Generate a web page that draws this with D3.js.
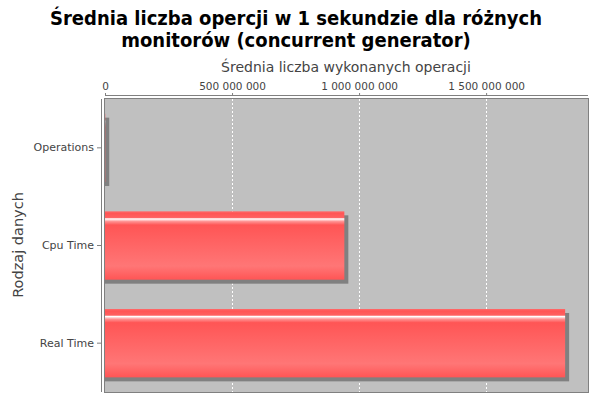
<!DOCTYPE html>
<html><head><meta charset="utf-8">
<script src="https://cdn.jsdelivr.net/npm/d3@7"></script>
<style>body{margin:0;background:#fff}svg{display:block}</style>
</head><body>
<svg id="c" width="600" height="400"></svg>
<script>
const categories = ["Operations", "Cpu Time", "Real Time"];
const values = [1000000, 942000000, 1811000000];
const tickValues = [0, 500000000, 1000000000, 1500000000];
const titleLines = ["Średnia liczba opercji w 1 sekundzie dla różnych", "monitorów (concurrent generator)"];
const xLabel = "Średnia liczba wykonanych operacji";
const yLabel = "Rodzaj danych";
const xMax = 1901000000;

const svg = d3.select("#c");
svg.append("rect").attr("width",600).attr("height",400).attr("fill","#fff");
const L=105, R=588, T=99, B=392;
const x = d3.scaleLinear().domain([0,xMax]).range([L,R]);
const y = d3.scaleBand().domain(categories).range([T,B]).paddingInner(0.3).paddingOuter(0.15);

const defs = svg.append("defs");
const g = defs.append("linearGradient").attr("id","barg").attr("x1",0).attr("y1",0).attr("x2",0).attr("y2",1);
[[0,"#ff6a6a"],[0.03,"#ff5555"],[0.09,"#ff6060"],[0.11,"#ffffff"],[0.15,"#ff9090"],[0.2,"#ff5555"],[0.8,"#ff7676"],[1,"#ff5555"]].forEach(([o,c])=>g.append("stop").attr("offset",o).attr("stop-color",c));

svg.append("rect").attr("x",L).attr("y",T).attr("width",R-L).attr("height",B-T).attr("fill","#c0c0c0");

// grid
svg.append("g").selectAll("line").data(tickValues.filter(d=>d>0)).join("line")
 .attr("x1",d=>Math.round(x(d))+0.5).attr("x2",d=>Math.round(x(d))+0.5).attr("y1",T).attr("y2",B)
 .attr("stroke","#ffffff").attr("stroke-width",1).attr("stroke-dasharray","2,2");

// shadows
svg.append("g").selectAll("rect").data(values).join("rect")
 .attr("x",x(0)).attr("y",(d,i)=>y(categories[i])+4)
 .attr("width",d=>x(d)-x(0)+4).attr("height",y.bandwidth())
 .attr("fill","#808080");
// bars
svg.append("g").selectAll("rect").data(values).join("rect")
 .attr("x",x(0)).attr("y",(d,i)=>y(categories[i]))
 .attr("width",d=>x(d)-x(0)).attr("height",y.bandwidth())
 .attr("fill","url(#barg)");

// plot outline
svg.append("rect").attr("x",L-0.5).attr("y",T-0.5).attr("width",R-L+1).attr("height",B-T+1)
 .attr("fill","none").attr("stroke","#808080");

// top axis
const xa = svg.append("g").attr("transform",`translate(0,${T-4})`)
 .call(d3.axisTop(x).tickValues(tickValues).tickSize(2).tickPadding(3)
   .tickFormat(d=>d3.format(",")(d).replace(/,/g," ")));
xa.select(".domain").attr("stroke","#808080").attr("d",`M${L},0.5H${R}`);
xa.selectAll(".tick line").attr("stroke","#808080");
xa.selectAll("text").attr("fill","#444").attr("font-family","DejaVu Sans").attr("font-size",10.5);

// left axis
const ya = svg.append("g").attr("transform",`translate(${L-4},0)`)
 .call(d3.axisLeft(y).tickSize(4).tickPadding(3));
ya.select(".domain").attr("stroke","#808080").attr("d",`M0.5,${T}V${B}`);
ya.selectAll(".tick line").attr("stroke","#808080");
ya.selectAll("text").attr("fill","#444").attr("font-family","DejaVu Sans").attr("font-size",11);

// labels
svg.append("text").attr("x",346).attr("y",72).attr("text-anchor","middle")
 .attr("font-family","DejaVu Sans").attr("font-size",14).attr("fill","#444").text(xLabel);
svg.append("text").attr("transform","translate(23,245) rotate(-90)").attr("text-anchor","middle")
 .attr("font-family","DejaVu Sans").attr("font-size",14.5).attr("fill","#444").text(yLabel);

svg.append("g").selectAll("text").data(titleLines).join("text")
 .attr("x",296).attr("y",(d,i)=>25+i*22).attr("text-anchor","middle")
 .attr("font-family","DejaVu Sans Condensed, DejaVu Sans").attr("font-weight","bold").attr("font-size",20)
 .attr("fill","#000").text(d=>d);
</script>
</body></html>
